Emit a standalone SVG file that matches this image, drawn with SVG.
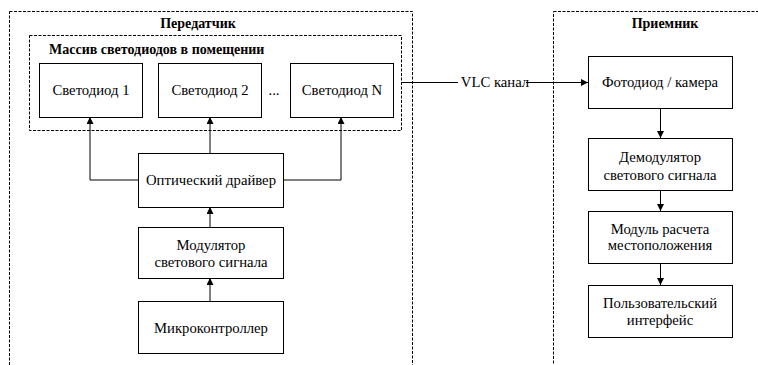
<svg xmlns="http://www.w3.org/2000/svg" width="758" height="365" viewBox="0 0 758 365">
<style>
.t{font-family:"Liberation Serif","Times New Roman","DejaVu Serif",serif;font-size:14.7px;fill:#000;text-anchor:middle}
.b{font-weight:bold;font-size:14px}
.box{fill:#fff;stroke:#000;stroke-width:1}
.grp{fill:none;stroke:#000;stroke-width:1;stroke-dasharray:3,1.5}
.c{fill:none;stroke:#000;stroke-width:1}
</style>
<defs>
<marker id="ah" viewBox="0 0 10 10" refX="10" refY="5" markerWidth="7" markerHeight="7" markerUnits="userSpaceOnUse" orient="auto">
<path d="M0,0 L10,5 L0,10 z" fill="#000"/>
</marker>
</defs>
<rect width="758" height="365" fill="#fff"/>
<g id="transmitter">
<rect class="grp" x="9.5" y="11.5" width="403" height="370"/>
<text class="t b" x="198" y="28">Передатчик</text>
</g>
<g id="led-array">
<rect class="grp" x="29.5" y="35.5" width="372" height="95"/>
<text class="t b" x="49" y="54" style="text-anchor:start">Массив светодиодов в помещении</text>
</g>
<g id="receiver">
<rect class="grp" x="553.5" y="11.5" width="220" height="370"/>
<text class="t b" x="665" y="28">Приемник</text>
</g>
<g id="connectors">
<polyline class="c" points="138,180 90,180 90,117" marker-end="url(#ah)"/>
<line class="c" x1="210" y1="153" x2="210" y2="117" marker-end="url(#ah)"/>
<polyline class="c" points="283,180 341,180 341,117" marker-end="url(#ah)"/>
<line class="c" x1="210" y1="227" x2="210" y2="207" marker-end="url(#ah)"/>
<line class="c" x1="210" y1="301" x2="210" y2="278" marker-end="url(#ah)"/>
<line class="c" x1="402" y1="82.5" x2="458" y2="82.5"/>
<line class="c" x1="526" y1="82.5" x2="588" y2="82.5" marker-end="url(#ah)"/>
<text class="t" x="495" y="87">VLC канал</text>
<line class="c" x1="660.5" y1="108" x2="660.5" y2="138" marker-end="url(#ah)"/>
<line class="c" x1="660.5" y1="190" x2="660.5" y2="211" marker-end="url(#ah)"/>
<line class="c" x1="660.5" y1="263" x2="660.5" y2="285" marker-end="url(#ah)"/>
</g>
<g id="led1">
<rect class="box" x="39.5" y="63.5" width="103" height="54"/>
<text class="t" x="91" y="95">Светодиод 1</text>
</g>
<g id="led2">
<rect class="box" x="158.5" y="63.5" width="103" height="54"/>
<text class="t" x="210" y="95">Светодиод 2</text>
</g>
<g id="dots">
<text class="t" x="274" y="95">...</text>
</g>
<g id="ledN">
<rect class="box" x="290.5" y="63.5" width="103" height="54"/>
<text class="t" x="342" y="95">Светодиод N</text>
</g>
<g id="driver">
<rect class="box" x="138.5" y="153.5" width="145" height="54"/>
<text class="t" x="211" y="185">Оптический драйвер</text>
</g>
<g id="modulator">
<rect class="box" x="138.5" y="227.5" width="145" height="51"/>
<text class="t" x="211" y="250">Модулятор</text>
<text class="t" x="211" y="267">светового сигнала</text>
</g>
<g id="mcu">
<rect class="box" x="138.5" y="301.5" width="145" height="52"/>
<text class="t" x="211" y="333">Микроконтроллер</text>
</g>
<g id="photodiode">
<rect class="box" x="588.5" y="56.5" width="144" height="52"/>
<text class="t" x="660" y="87">Фотодиод / камера</text>
</g>
<g id="demodulator">
<rect class="box" x="588.5" y="138.5" width="144" height="52"/>
<text class="t" x="660" y="162">Демодулятор</text>
<text class="t" x="660" y="180">светового сигнала</text>
</g>
<g id="positioning">
<rect class="box" x="588.5" y="211.5" width="144" height="52"/>
<text class="t" x="660" y="234">Модуль расчета</text>
<text class="t" x="660" y="250">местоположения</text>
</g>
<g id="ui">
<rect class="box" x="588.5" y="285.5" width="144" height="52"/>
<text class="t" x="660" y="308">Пользовательский</text>
<text class="t" x="660" y="325">интерфейс</text>
</g>
</svg>
